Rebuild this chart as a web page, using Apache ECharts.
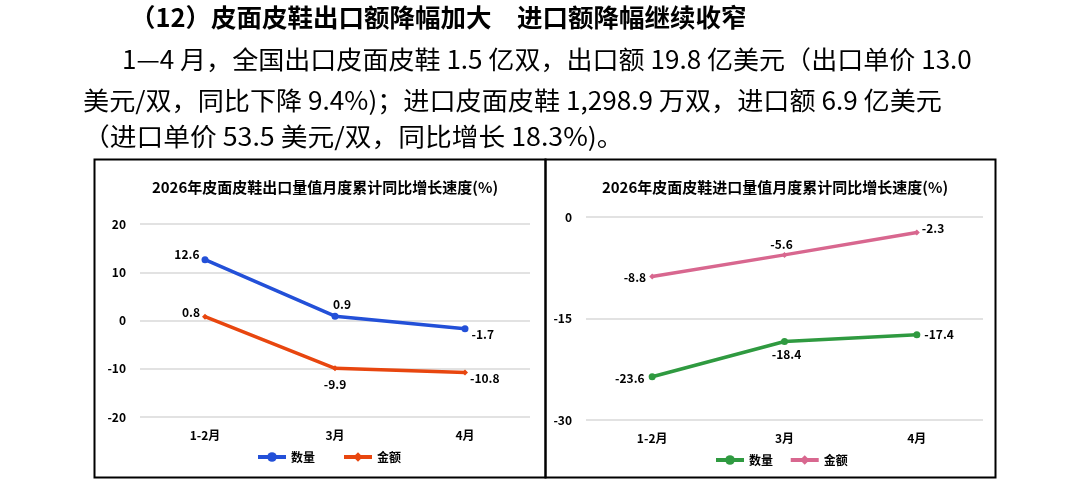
<!DOCTYPE html>
<html>
<head>
<meta charset="utf-8">
<script src="https://cdn.jsdelivr.net/npm/echarts@6/dist/echarts.min.js"></script>
<style>
  html, body { margin: 0; padding: 0; background: #fff; }
  #chart { width: 1086px; height: 484px; }
</style>
</head>
<body>
<div id="chart"></div>
<script>
// text of the page
var heading = '（12）皮面皮鞋出口额降幅加大　进口额降幅继续收窄';
var paraLines = [
  '1—4 月，全国出口皮面皮鞋 1.5 亿双，出口额 19.8 亿美元（出口单价 13.0',
  '美元/双，同比下降 9.4%)；进口皮面皮鞋 1,298.9 万双，进口额 6.9 亿美元',
  '（进口单价 53.5 美元/双，同比增长 18.3%)。'
];

// chart data
var months = ['1-2月', '3月', '4月'];
var exportTitle = '2026年皮面皮鞋出口量值月度累计同比增长速度(%)';
var importTitle = '2026年皮面皮鞋进口量值月度累计同比增长速度(%)';
var exportQty = [12.6, 0.9, -1.7];
var exportValue = [0.8, -9.9, -10.8];
var importQty = [-23.6, -18.4, -17.4];
var importValue = [-8.8, -5.6, -2.3];

var FONT = '"Noto Sans CJK SC", "Noto Sans", sans-serif';

// label placement per point
function withLabels(values, places) {
  return values.map(function (v, i) {
    var p = places[i];
    return { value: v, label: { position: p[0], offset: p[1] } };
  });
}

var labelStyle = {
  show: true,
  color: '#000',
  fontFamily: FONT,
  fontWeight: 'bold',
  fontSize: 12,
  distance: 6
};

function lineSeries(name, color, symbol, size, axisIdx, data) {
  return {
    name: name,
    type: 'line',
    xAxisIndex: axisIdx,
    yAxisIndex: axisIdx,
    symbol: symbol,
    symbolSize: size,
    lineStyle: { color: color, width: 3.5 },
    itemStyle: { color: color },
    label: labelStyle,
    data: data
  };
}

var axisLabelStyle = {
  color: '#000',
  fontFamily: FONT,
  fontWeight: 'bold',
  fontSize: 12
};

function textLine(str, x, y, font, sx) {
  return {
    type: 'text', x: x, y: y, scaleX: sx,
    style: { text: str, fill: '#000', font: font, align: 'left', verticalAlign: 'middle' }
  };
}

var chart = echarts.init(document.getElementById('chart'));

var graphics = [
  textLine(heading, 130, 17, 'bold 25px ' + FONT, 1.02),
  textLine(paraLines[0], 122, 59, '25px ' + FONT, 1.042),
  textLine(paraLines[1], 83, 100, '25px ' + FONT, 1.045),
  textLine(paraLines[2], 83, 136, '25px ' + FONT, 1.07),
  {
    type: 'rect', shape: { x: 94.5, y: 159.5, width: 451, height: 318 },
    style: { fill: 'none', stroke: '#000', lineWidth: 2 }
  },
  {
    type: 'rect', shape: { x: 545.5, y: 159.5, width: 450, height: 318 },
    style: { fill: 'none', stroke: '#000', lineWidth: 2 }
  }
];

var legendText = { fontFamily: FONT, fontWeight: 'bold', fontSize: 12, color: '#000' };

chart.setOption({
  backgroundColor: '#fff',
  animation: false,
  graphic: graphics,
  title: [
    {
      text: exportTitle, left: 320, top: 175, textAlign: 'center',
      textStyle: { fontFamily: FONT, fontWeight: 'bold', fontSize: 15, color: '#000' }
    },
    {
      text: importTitle, left: 770, top: 175, textAlign: 'center',
      textStyle: { fontFamily: FONT, fontWeight: 'bold', fontSize: 15, color: '#000' }
    }
  ],
  legend: [
    {
      data: ['数量', '金额'], left: 256, top: 451, padding: 0,
      itemWidth: 28, itemHeight: 12, itemGap: 27,
      lineStyle: { width: 4 }, textStyle: legendText
    },
    {
      data: ['数量 ', '金额 '], left: 714, top: 454, padding: 0,
      itemWidth: 28, itemHeight: 12, itemGap: 13,
      lineStyle: { width: 4 }, textStyle: legendText
    }
  ],
  grid: [
    { left: 140, right: 556, top: 224, bottom: 67 },
    { left: 586, right: 103, top: 217, bottom: 64 }
  ],
  xAxis: [
    {
      gridIndex: 0, type: 'category', data: months,
      axisLine: { show: false }, axisTick: { show: false },
      axisLabel: Object.assign({ margin: 12 }, axisLabelStyle)
    },
    {
      gridIndex: 1, type: 'category', data: months,
      axisLine: { show: false }, axisTick: { show: false },
      axisLabel: Object.assign({ margin: 12 }, axisLabelStyle)
    }
  ],
  yAxis: [
    {
      gridIndex: 0, type: 'value', min: -20, max: 20, interval: 10,
      axisLine: { show: false }, axisTick: { show: false },
      splitLine: { lineStyle: { color: '#d9d9d9', width: 1.5 } },
      axisLabel: Object.assign({ margin: 14 }, axisLabelStyle)
    },
    {
      gridIndex: 1, type: 'value', min: -30, max: 0, interval: 15,
      axisLine: { show: false }, axisTick: { show: false },
      splitLine: { lineStyle: { color: '#d9d9d9', width: 1.5 } },
      axisLabel: Object.assign({ margin: 14 }, axisLabelStyle)
    }
  ],
  series: [
    lineSeries('数量', '#2350d8', 'circle', 7, 0, withLabels(exportQty,
      [['left', [4, -5]], ['top', [7, 4]], ['right', [-3, 6]]])),
    lineSeries('金额', '#e8460f', 'diamond', 6, 0, withLabels(exportValue,
      [['left', [4, -4]], ['bottom', [0, 1]], ['right', [-4, 6]]])),
    lineSeries('数量 ', '#2f9a40', 'circle', 7, 1, withLabels(importQty,
      [['left', [2, 2]], ['bottom', [2, -3]], ['right', [-2, 0]]])),
    lineSeries('金额 ', '#d8678f', 'diamond', 6, 1, withLabels(importValue,
      [['left', [3, 1]], ['top', [-3, 5]], ['right', [-4, -4]]]))
  ]
});
</script>
</body>
</html>
